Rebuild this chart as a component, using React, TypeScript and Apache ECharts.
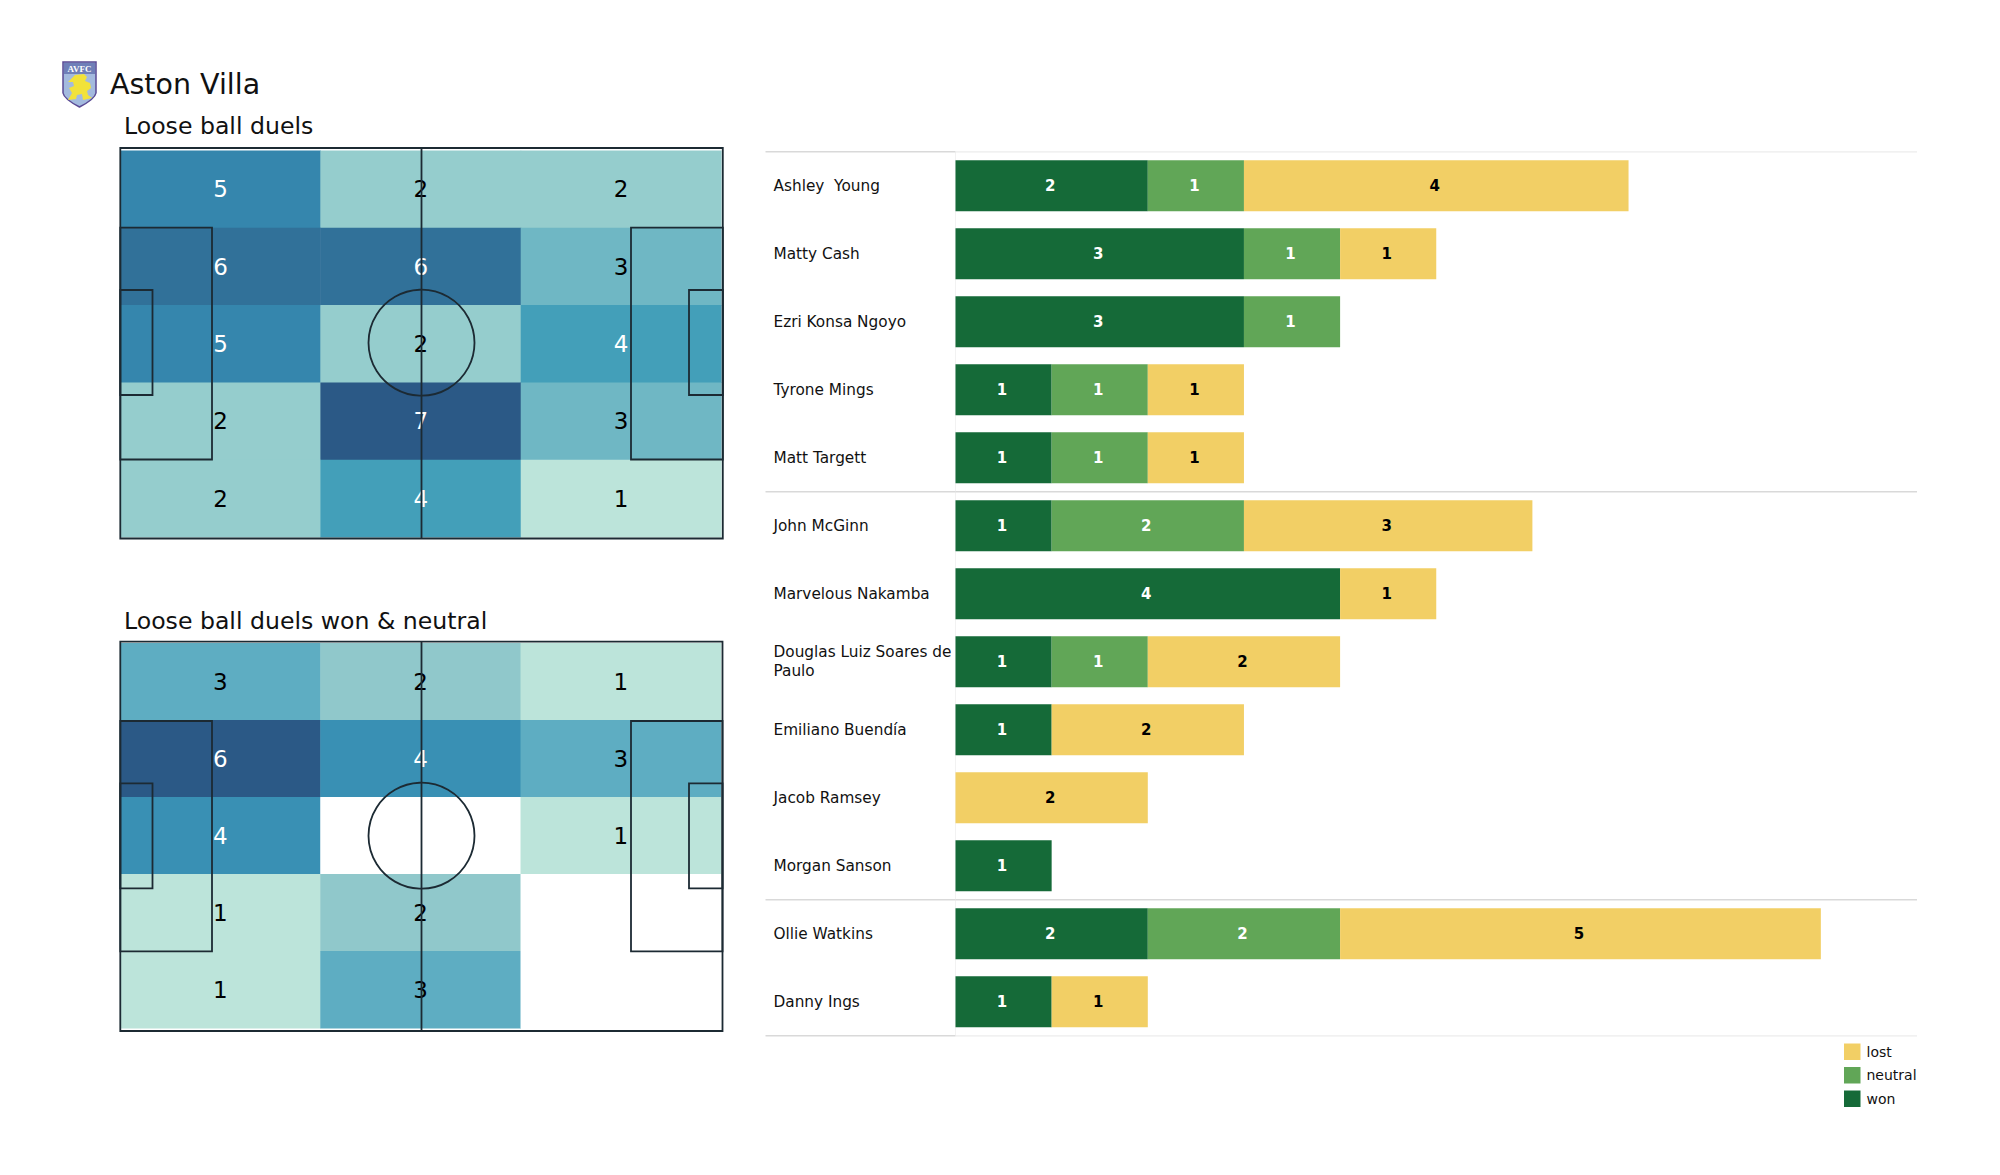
import React, { useEffect, useRef } from "react";
import * as echarts from "echarts";

const FONT = "DejaVu Sans";
const players = ["Ashley  Young", "Matty Cash", "Ezri Konsa Ngoyo", "Tyrone Mings", "Matt Targett", "John McGinn", "Marvelous Nakamba", "Douglas Luiz Soares de Paulo", "Emiliano Buendía", "Jacob Ramsey", "Morgan Sanson", "Ollie Watkins", "Danny Ings"];
const won = [2, 3, 3, 1, 1, 1, 4, 1, 1, 0, 1, 2, 1];
const neutral = [1, 1, 1, 1, 1, 2, 0, 1, 0, 0, 0, 2, 0];
const lost = [4, 1, 0, 1, 1, 3, 1, 2, 2, 2, 0, 5, 1];
const groupSizes = [5, 6, 2];

const duels = [[5, 2, 2], [6, 6, 3], [5, 2, 4], [2, 7, 3], [2, 4, 1]];
const duelsWonNeutral = [[3, 2, 1], [6, 4, 3], [4, 0, 1], [1, 2, 0], [1, 3, 0]];
const duelColors: Record<number, string> = { 1: "#bce4da", 2: "#95cdcd", 3: "#6fb7c4", 4: "#439fb9", 5: "#3586ad", 6: "#317199", 7: "#2b5986" };
const wonNeutralColors: Record<number, string> = { 0: "#ffffff", 1: "#bce4da", 2: "#90c8cb", 3: "#5eadc2", 4: "#3990b4", 6: "#2b5986" };

const WON = "#156a38", NEUTRAL = "#61a657", LOST = "#f2cf65", LINE = "#1c2a33";
const BAR = { left: 955.5, width: 961.5, top: 151.8, height: 884, lineLeft: 765.5 };
const P1 = { left: 120.3, width: 601, top: 150.7, height: 386.6, oTop: 148, oBottom: 538.5, cy: 342.7, boxTop: 227.7, boxBottom: 459.5, sixTop: 290, sixBottom: 395 };
const P2 = { left: 120.3, width: 600.7, top: 643.3, height: 385, oTop: 641.7, oBottom: 1031, cy: 835.7, boxTop: 721, boxBottom: 951.3, sixTop: 783.3, sixBottom: 888.3 };

echarts.graphic.registerShape("vfcShield", echarts.graphic.extendPath("M0 0 L33 0 L33 31 Q32 37 16.5 45 Q1 37 0 31 Z", {}));
echarts.graphic.registerShape("vfcLion", echarts.graphic.extendPath("M12 13 L21 12 L24 15 L22 19 L27 21 L28 26 L24 29 L25 33 L29 36 L20 38 L19 32 L14 33 L13 37 L5 38 L9 31 L6 26 L11 24 L10 20 L5 20 Z", {}));

const heatData = (m: number[][]) =>
  m.flatMap((row, y) =>
    row.map((v, x) => ({ value: [x, y, v], label: { color: v >= 4 ? "#ffffff" : "#000000" } }))
  );

const pieces = (c: Record<number, string>) => Object.keys(c).map((k) => ({ value: Number(k), color: c[Number(k)] }));

const pitch = (p: typeof P1) => {
  const s = { stroke: LINE, lineWidth: 1.8, fill: "transparent" };
  const right = p.left + p.width;
  const mid = 421.5;
  const rect = (x: number, y: number, w: number, h: number) => ({ type: "rect", z: 50, shape: { x, y, width: w, height: h }, style: s, silent: true });
  return [
    rect(p.left, p.oTop, right + 1.5 - p.left, p.oBottom - p.oTop),
    rect(p.left, p.boxTop, 91.7, p.boxBottom - p.boxTop),
    rect(p.left, p.sixTop, 32.2, p.sixBottom - p.sixTop),
    rect(631, p.boxTop, right + 1.5 - 631, p.boxBottom - p.boxTop),
    rect(689, p.sixTop, right + 1.5 - 689, p.sixBottom - p.sixTop),
    { type: "line", z: 50, shape: { x1: mid, y1: p.oTop, x2: mid, y2: p.oBottom }, style: s, silent: true },
    { type: "circle", z: 50, shape: { cx: mid, cy: p.cy, r: 53 }, style: s, silent: true },
  ];
};

const separators = () => {
  const rowH = BAR.height / players.length;
  const out: any[] = [];
  let rows = 0;
  const ends = [0, ...groupSizes.map((g) => (rows += g))];
  ends.forEach((r, i) => {
    const y = BAR.top + r * rowH;
    const edge = i === 0 || i === ends.length - 1;
    out.push({ type: "line", z: 1, shape: { x1: BAR.lineLeft, y1: y, x2: BAR.left, y2: y }, style: { stroke: "#d9d9d9", lineWidth: 1.6 }, silent: true });
    out.push({ type: "line", z: 1, shape: { x1: BAR.left, y1: y, x2: BAR.left + BAR.width, y2: y }, style: { stroke: edge ? "#ececec" : "#d9d9d9", lineWidth: edge ? 1.2 : 1.6 }, silent: true });
  });
  return out;
};

const text = (t: string, x: number, y: number, size: number) => ({
  type: "text", x, y, z: 60, silent: true,
  style: { text: t, fontFamily: FONT, fontSize: size, fill: "#111111", align: "left", verticalAlign: "middle" },
});

const crest = [
  { type: "vfcShield", x: 63, y: 62, z: 60, silent: true, style: { fill: "#a3bade", stroke: "#5a4a94", lineWidth: 1.5 } },
  { type: "rect", z: 61, silent: true, shape: { x: 64, y: 63, width: 31, height: 11 }, style: { fill: "#6f7fb8" } },
  { type: "text", x: 79.5, y: 69, z: 62, silent: true, style: { text: "AVFC", fontFamily: "Liberation Serif", fontWeight: "bold", fontSize: 9, fill: "#ffffff", align: "center", verticalAlign: "middle" } },
  { type: "vfcLion", x: 63, y: 62, z: 62, silent: true, style: { fill: "#f2e23a" } },
];

const barLabel = (color: string) => ({
  show: true, position: "inside", offset: [-1.5, 0], color, fontFamily: FONT, fontWeight: "bold", fontSize: 15,
  formatter: (p: any) => (p.value ? String(p.value) : ""),
});

const option: any = {
  animation: false,
  backgroundColor: "#ffffff",
  textStyle: { fontFamily: FONT },
  grid: [
    { left: P1.left, top: P1.top, width: P1.width, height: P1.height },
    { left: P2.left, top: P2.top, width: P2.width, height: P2.height },
    { left: BAR.left, top: BAR.top, width: BAR.width, height: BAR.height },
  ],
  xAxis: [
    { type: "category", gridIndex: 0, data: [0, 1, 2], show: false },
    { type: "category", gridIndex: 1, data: [0, 1, 2], show: false },
    { type: "value", gridIndex: 2, min: 0, max: 10, show: false },
  ],
  yAxis: [
    { type: "category", gridIndex: 0, inverse: true, data: [0, 1, 2, 3, 4], show: false },
    { type: "category", gridIndex: 1, inverse: true, data: [0, 1, 2, 3, 4], show: false },
    {
      type: "category", gridIndex: 2, inverse: true, data: players,
      axisTick: { show: false },
      axisLine: { show: true, lineStyle: { color: "#f2f2f2", width: 1 } },
      splitLine: { show: false },
      axisLabel: { align: "left", margin: 182, color: "#111111", fontFamily: FONT, fontSize: 15.3, lineHeight: 19, width: 184, overflow: "break", padding: [6, 0, 0, 0] },
    },
  ],
  visualMap: [
    { type: "piecewise", show: false, seriesIndex: 0, dimension: 2, pieces: pieces(duelColors) },
    { type: "piecewise", show: false, seriesIndex: 1, dimension: 2, pieces: pieces(wonNeutralColors) },
  ],
  legend: {
    orient: "vertical", left: 1839, top: 1038.5, itemWidth: 16.5, itemHeight: 16.5, itemGap: 7,
    data: ["lost", "neutral", "won"], icon: "rect", selectedMode: false,
    textStyle: { fontFamily: FONT, fontSize: 14, color: "#111111", padding: [0, 0, 0, 1] },
  },
  series: [
    ...[duels, duelsWonNeutral].map((m, i) => ({
      type: "heatmap", xAxisIndex: i, yAxisIndex: i, data: heatData(m),
      label: { show: true, fontFamily: FONT, fontSize: 23, formatter: (p: any) => (p.value[2] ? String(p.value[2]) : "") },
      emphasis: { disabled: true },
    })),
    { name: "won", type: "bar", stack: "t", xAxisIndex: 2, yAxisIndex: 2, barWidth: "75%", data: won, itemStyle: { color: WON }, label: barLabel("#ffffff") },
    { name: "neutral", type: "bar", stack: "t", xAxisIndex: 2, yAxisIndex: 2, barWidth: "75%", data: neutral, itemStyle: { color: NEUTRAL }, label: barLabel("#ffffff") },
    { name: "lost", type: "bar", stack: "t", xAxisIndex: 2, yAxisIndex: 2, barWidth: "75%", data: lost, itemStyle: { color: LOST }, label: barLabel("#000000") },
  ],
  graphic: [
    ...pitch(P1),
    ...pitch(P2),
    ...separators(),
    ...crest,
    text("Aston Villa", 110, 84, 28.5),
    text("Loose ball duels", 124, 125.5, 23.6),
    text("Loose ball duels won & neutral", 124, 621, 23.6),
  ],
};

export default function App() {
  const ref = useRef<HTMLDivElement>(null);
  useEffect(() => {
    const chart = echarts.init(ref.current!, undefined, { renderer: "svg" });
    chart.setOption(option);
    return () => chart.dispose();
  }, []);
  return <div ref={ref} style={{ position: "absolute", left: 0, top: 0, width: 2000, height: 1175, background: "#fff" }} />;
}
